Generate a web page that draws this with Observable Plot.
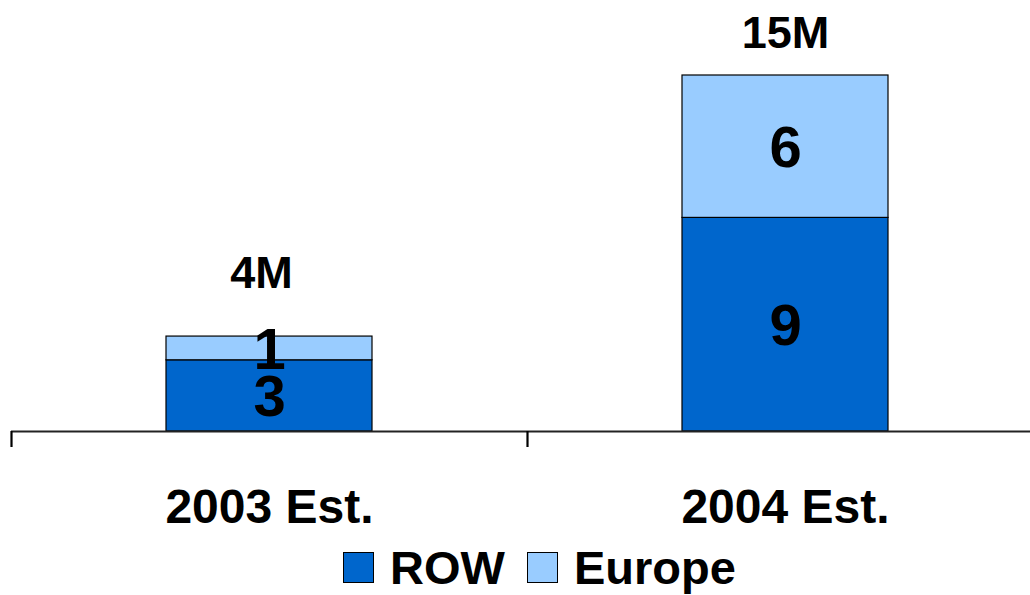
<!DOCTYPE html>
<html>
<head>
<meta charset="utf-8">
<script src="https://cdn.jsdelivr.net/npm/d3@7"></script>
<script src="https://cdn.jsdelivr.net/npm/@observablehq/plot@0.6"></script>
<style>
  html, body { margin: 0; padding: 0; background: #fff; }
  body { width: 1030px; height: 595px; overflow: hidden; font-family: "Liberation Sans", Arial, sans-serif; }
  #chart svg { display: block; }
  #legend { position: relative; height: 55px; }
  .item { position: absolute; top: 0; height: 55px; display: flex; align-items: center; font-weight: bold; font-size: 47px; color: #000; }
  .sw { width: 29px; height: 29px; border: 1px solid #000; margin-right: 16px; }
</style>
</head>
<body>
<div id="chart"></div>
<div id="legend"></div>
<script>
const categories = ["2003 Est.", "2004 Est."];
const series = ["ROW", "Europe"];
const rowValues = [3, 9];
const europeValues = [1, 6];
const totalLabels = ["4M", "15M"];
const colors = ["#0066CC", "#99CCFF"];

const data = [];
categories.forEach((c, i) => {
  data.push({category: c, series: "ROW", value: rowValues[i]});
  data.push({category: c, series: "Europe", value: europeValues[i]});
});
const totals = categories.map((c, i) => ({category: c, total: rowValues[i] + europeValues[i], label: totalLabels[i]}));

const W = 1030, H = 540;
const xRange = [11, 1043];
const step = (xRange[1] - xRange[0]) / categories.length;
const font = "Liberation Sans, Arial, sans-serif";

const chart = Plot.plot({
  width: W,
  height: H,
  marginTop: 75,
  marginBottom: 109,
  marginLeft: 11,
  marginRight: 0,
  style: {fontFamily: font, background: "#fff", overflow: "visible"},
  x: {domain: categories, range: xRange, paddingInner: 0.6, paddingOuter: 0.3, label: null},
  y: {domain: [0, 15], axis: null},
  color: {domain: series, range: colors},
  marks: [
    Plot.barY(data, Plot.stackY({x: "category", y: "value", z: "series", fill: "series", stroke: "#000", strokeWidth: 1.2})),
    Plot.text(data, Plot.stackY({x: "category", y: "value", z: "series", text: "value", fill: "#000", fontSize: 58, fontWeight: "bold", dy: 2})),
    Plot.text(totals.filter((d, i) => i === 0), {x: "category", y: "total", text: "label", fontSize: 45, fontWeight: "bold", fill: "#000", dy: -63, dx: -8}),
    Plot.text(totals.filter((d, i) => i === 1), {x: "category", y: "total", text: "label", fontSize: 45, fontWeight: "bold", fill: "#000", dy: -42}),
    Plot.ruleY([0], {stroke: "#222", strokeWidth: 2.2}),
    Plot.axisX({tickSize: 16, tickFormat: () => "", dx: -step / 2, stroke: "#000", strokeWidth: 2.2, label: null}),
    Plot.axisX({tickSize: 0, tickPadding: 57, fontSize: 48, fontWeight: "bold", fill: "#000", label: null})
  ]
});
document.getElementById("chart").appendChild(chart);

const legend = document.getElementById("legend");
const starts = [343, 527];
series.forEach((s, i) => {
  const item = document.createElement("div");
  item.className = "item";
  item.style.left = starts[i] + "px";
  const sw = document.createElement("div");
  sw.className = "sw";
  sw.style.background = colors[i];
  const t = document.createElement("span");
  t.textContent = s;
  item.appendChild(sw);
  item.appendChild(t);
  legend.appendChild(item);
});
</script>
</body>
</html>
